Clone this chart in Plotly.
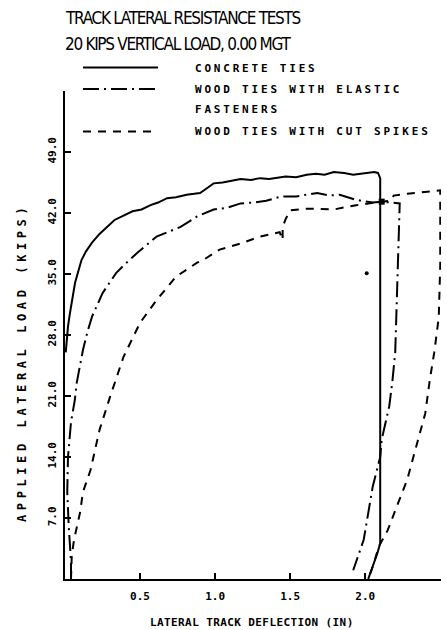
import plotly.graph_objects as go

# ---------------- data ----------------
concrete_x = [0.005, 0.011, 0.02, 0.033, 0.05, 0.067, 0.09, 0.11, 0.14, 0.18, 0.23, 0.28, 0.33,
              0.39, 0.45, 0.51, 0.57, 0.62, 0.68, 0.74, 0.81, 0.86, 0.9, 0.95, 0.99, 1.05,
              1.11, 1.17, 1.24, 1.3, 1.36, 1.41, 1.47, 1.54, 1.61, 1.67, 1.73, 1.79, 1.86,
              1.92, 1.97, 2.02, 2.06, 2.085, 2.1, 2.1, 2.1, 2.1, 2.08, 2.05, 2.02]
concrete_y = [26.0, 27.4, 29.0, 30.5, 32.4, 34.0, 35.4, 36.6, 37.6, 38.6, 39.6, 40.4, 41.2,
              41.7, 42.2, 42.4, 42.9, 43.2, 43.7, 43.8, 44.1, 44.2, 44.3, 44.9, 45.4, 45.5,
              45.7, 45.9, 45.8, 46.0, 45.9, 46.0, 46.2, 46.1, 46.4, 46.5, 46.4, 46.7, 46.6,
              46.4, 46.5, 46.6, 46.7, 46.6, 46.0, 43.3, 30.0, 4.1, 2.9, 1.4, 0.0]

elastic_x = [0.04, 0.04, 0.025, 0.015, 0.02, 0.04, 0.065, 0.078, 0.1, 0.12, 0.15, 0.18, 0.25,
             0.34, 0.41, 0.48, 0.61, 0.77, 0.88, 0.99, 1.08, 1.17, 1.26, 1.34, 1.44, 1.54,
             1.68, 1.76, 1.83, 1.94, 2.05, 2.11, 2.23, 2.22, 2.21, 2.2, 2.18, 2.16, 2.11,
             2.1, 2.05, 2.02, 1.99, 1.92]
elastic_y = [0.0, 2.0, 6.0, 10.0, 14.0, 18.0, 20.5, 22.5, 24.5, 26.3, 28.4, 30.1, 32.8,
             35.1, 36.3, 37.4, 39.3, 40.4, 41.6, 42.4, 42.6, 43.1, 43.2, 43.4, 43.9, 43.9,
             44.3, 44.0, 44.1, 43.5, 43.2, 43.3, 43.1, 37.0, 30.1, 26.0, 22.5, 19.8, 16.0,
             14.0, 10.6, 7.5, 4.5, 1.0]

spikes_x = [0.04, 0.045, 0.06, 0.078, 0.1, 0.12, 0.17, 0.23, 0.3, 0.39, 0.5, 0.61, 0.74,
            0.88, 0.92, 1.03, 1.17, 1.3, 1.43, 1.45, 1.45, 1.47, 1.5, 1.61, 1.79, 1.94,
            2.08, 2.11, 2.17, 2.19, 2.28, 2.4, 2.5, 2.5, 2.49, 2.46, 2.43, 2.4, 2.34,
            2.28, 2.21, 2.15, 2.09, 2.05, 2.02]
spikes_y = [0.0, 2.6, 4.5, 6.0, 7.6, 10.0, 12.5, 17.1, 20.9, 25.5, 29.4, 32.0, 34.7,
            36.3, 36.6, 37.8, 38.5, 39.3, 39.8, 38.9, 40.4, 41.3, 42.3, 42.5, 42.4, 42.9,
            43.3, 43.3, 43.4, 44.0, 44.2, 44.4, 44.6, 36.0, 30.0, 26.0, 22.8, 19.0, 15.2,
            11.4, 8.3, 5.6, 3.7, 1.4, 0.0]

stray_x = [2.01]
stray_y = [35.1]
join_x = [2.11]
join_y = [43.3]

x_tickvals = [0.5, 1.0, 1.5, 2.0, 2.5]
x_ticktext = ["0.5", "1.0", "1.5", "2.0", ""]
y_tickvals = [7, 14, 21, 28, 35, 42, 49, 56]
y_ticktext = ["7.0", "14.0", "21.0", "28.0", "35.0", "42.0", "49.0", ""]

title_lines = ["TRACK LATERAL RESISTANCE TESTS", "20 KIPS VERTICAL LOAD, 0.00 MGT"]
legend_labels = ["CONCRETE TIES", "WOOD TIES WITH ELASTIC", "FASTENERS", "WOOD TIES WITH CUT SPIKES"]
x_title = "LATERAL TRACK DEFLECTION (IN)"
y_title = "APPLIED LATERAL LOAD (KIPS)"

# ---------------- styles ----------------
W, H = 447, 630
ML, MR, MT, MB = 65, 6, 91, 51
X_MAX = 2.505
PW, PH = W - ML - MR, H - MT - MB
MONO = "DejaVu Sans Mono, Liberation Mono, monospace"
NARROW = "Liberation Sans Narrow, DejaVu Sans Condensed, Liberation Sans"
DASHDOT = "16px,5px,2px,5px"
DASH = "8px,7px"


def px(xp):
    return (xp - ML) / PW


def py(yp):
    return (H - MB - yp) / PH


def spaced(t, s, bold=True):
    w = "font-weight:bold;" if bold else ""
    return f'<span style="{w}letter-spacing:{s}px">{t}</span>'


fig = go.Figure()
fig.add_trace(go.Scatter(x=concrete_x, y=concrete_y, mode="lines",
                         line=dict(color="black", width=2), name=legend_labels[0]))
fig.add_trace(go.Scatter(x=elastic_x, y=elastic_y, mode="lines",
                         line=dict(color="black", width=2, dash=DASHDOT),
                         name=legend_labels[1] + " " + legend_labels[2]))
fig.add_trace(go.Scatter(x=spikes_x, y=spikes_y, mode="lines",
                         line=dict(color="black", width=2, dash=DASH), name=legend_labels[3]))
fig.add_trace(go.Scatter(x=stray_x, y=stray_y, mode="markers",
                         marker=dict(color="black", size=4), hoverinfo="skip"))
fig.add_trace(go.Scatter(x=join_x, y=join_y, mode="markers",
                         marker=dict(color="black", size=6, symbol="square"), hoverinfo="skip"))

annotations = []
for i, t in enumerate(title_lines):
    annotations.append(dict(text=spaced(t, -1.3, bold=False), x=px(63), y=py([18, 44][i]),
                            xref="paper", yref="paper",
                            xanchor="left", yanchor="middle", showarrow=False,
                            font=dict(family=NARROW, size=17, color="black")))
leg_y = [69, 89, 110, 132]
for t, yy in zip(legend_labels, leg_y):
    annotations.append(dict(text=spaced(t, 2.8), x=px(193), y=py(yy), xref="paper", yref="paper",
                            xanchor="left", yanchor="middle", showarrow=False,
                            font=dict(family=MONO, size=11, color="black")))
annotations.append(dict(text=spaced(x_title, 0.4), x=px(252), y=py(622), xref="paper", yref="paper",
                        xanchor="center", yanchor="middle", showarrow=False,
                        font=dict(family=MONO, size=11, color="black")))
annotations.append(dict(text=spaced(y_title, 4.6), x=px(22), y=py(363), xref="paper", yref="paper",
                        xanchor="center", yanchor="middle", showarrow=False, textangle=-90,
                        font=dict(family=MONO, size=12, color="black")))

shapes = []
for yy, dash in zip([67.5, 89, 131.5], ["solid", DASHDOT, DASH]):
    shapes.append(dict(type="line", xref="paper", yref="paper", x0=px(83), x1=px(158),
                       y0=py(yy), y1=py(yy), line=dict(color="black", width=2, dash=dash)))

tickfont = dict(family=MONO, size=11, color="black", weight="bold")
fig.update_layout(
    width=W, height=H, margin=dict(l=ML, r=MR, t=MT, b=MB),
    paper_bgcolor="white", plot_bgcolor="white", showlegend=False,
    annotations=annotations, shapes=shapes,
    xaxis=dict(range=[0, X_MAX], showline=True, linecolor="black", linewidth=2,
               ticks="inside", ticklen=6, tickwidth=1.5, tickcolor="black",
               tickvals=x_tickvals, ticktext=x_ticktext, showgrid=False, zeroline=False,
               tickfont=tickfont, ticklabelstandoff=6),
    yaxis=dict(range=[0, 56], showline=True, linecolor="black", linewidth=2,
               ticks="inside", ticklen=6, tickwidth=1.5, tickcolor="black",
               tickvals=y_tickvals, ticktext=y_ticktext, tickangle=-90, showgrid=False,
               zeroline=False, tickfont=tickfont, ticklabelstandoff=3),
)
fig.write_html("out.html", config={"displayModeBar": False},
               post_script="document.body.style.margin='0';document.body.style.overflow='hidden';")
